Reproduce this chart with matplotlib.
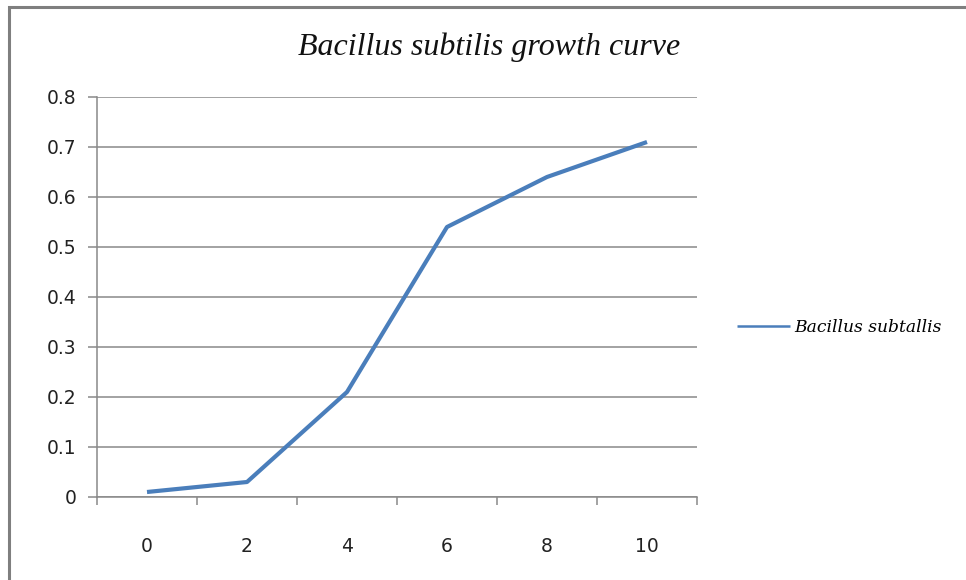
import matplotlib
matplotlib.use("Agg")
import matplotlib.pyplot as plt
from matplotlib.patches import Rectangle
from matplotlib.ticker import FixedLocator, NullFormatter

categories = ["0", "2", "4", "6", "8", "10"]
values = [0.01, 0.03, 0.21, 0.54, 0.64, 0.71]
series_name = "Bacillus subtallis"
title = "Bacillus subtilis growth curve"
y_ticks = [0, 0.1, 0.2, 0.3, 0.4, 0.5, 0.6, 0.7, 0.8]
y_labels = ["0", "0.1", "0.2", "0.3", "0.4", "0.5", "0.6", "0.7", "0.8"]

W, H = 966, 580
fig = plt.figure(figsize=(W / 100, H / 100), dpi=100)
fig.patch.set_facecolor("white")

# outer chart border (top/left visible)
fig.patches.append(Rectangle((9 / W, -0.2), 2.0, (H - 7) / H + 0.2,
                             transform=fig.transFigure, fill=False,
                             edgecolor="#7f7f7f", linewidth=2.2, zorder=0))

ax = fig.add_axes([97 / W, (H - 497) / H, 600 / W, 400 / H])
grid_c = "#898989"

x = list(range(len(categories)))
ax.plot(x, values, color="#4a7ebb", linewidth=3.0, solid_capstyle="butt",
        label=series_name, zorder=3)

ax.set_xlim(-0.5, len(categories) - 0.5)
ax.set_ylim(0, 0.8)
ax.set_yticks(y_ticks)
ax.set_yticklabels(y_labels)
ax.set_xticks(x)
ax.set_xticklabels(categories)
ax.xaxis.set_minor_locator(FixedLocator([i - 0.5 for i in range(len(categories) + 1)]))
ax.xaxis.set_minor_formatter(NullFormatter())

ax.tick_params(axis="x", which="major", length=0, pad=29, labelsize=13.5, labelcolor="#222222")
ax.tick_params(axis="x", which="minor", length=6, width=1.1, color=grid_c, direction="out")
ax.tick_params(axis="y", which="major", length=6.5, width=1.1, color=grid_c, pad=8,
               labelsize=13.5, labelcolor="#222222")

ax.grid(axis="y", color=grid_c, linewidth=1.1)
ax.set_axisbelow(True)
for side in ["top", "right"]:
    ax.spines[side].set_visible(False)
for side in ["left", "bottom"]:
    ax.spines[side].set_color(grid_c)
    ax.spines[side].set_linewidth(1.1)

fig.text(489 / W, 1 - 47 / H, title, ha="center", va="center",
         fontsize=23, style="italic", family="Liberation Serif", color="#111111")

leg = fig.legend(loc="center left", bbox_to_anchor=(722 / W, 1 - 327 / H),
                 frameon=False, handlelength=3.1, handletextpad=0.25,
                 prop={"family": "DejaVu Serif", "style": "italic", "size": 12.3})
for h in leg.get_lines():
    h.set_linewidth(1.8)

fig.savefig("out.png", dpi=100)
